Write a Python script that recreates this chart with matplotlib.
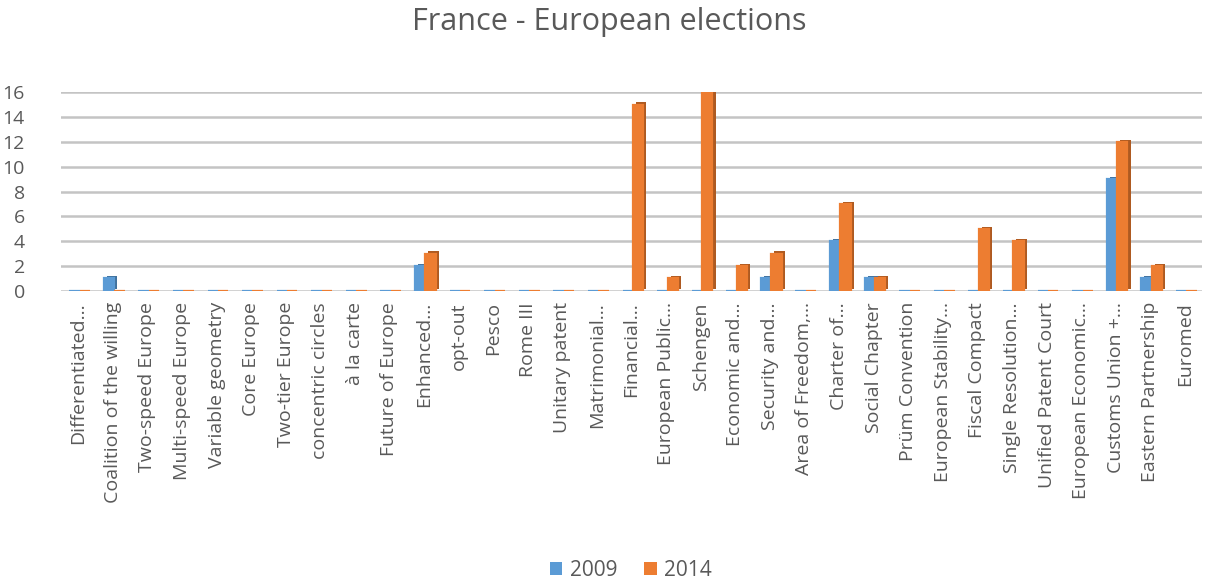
import matplotlib.pyplot as plt
import matplotlib.patheffects as pe
from matplotlib.patches import Patch
import numpy as np

plt.rcParams["font.family"] = ["Open Sans", "DejaVu Sans"]

categories = [
    "Differentiated…", "Coalition of the willing", "Two-speed Europe",
    "Multi-speed Europe", "Variable geometry", "Core Europe", "Two-tier Europe",
    "concentric circles", "à la carte", "Future of Europe", "Enhanced…",
    "opt-out", "Pesco", "Rome III", "Unitary patent", "Matrimonial…",
    "Financial…", "European Public…", "Schengen", "Economic and…",
    "Security and…", "Area of Freedom,…", "Charter of…", "Social Chapter",
    "Prüm Convention", "European Stability…", "Fiscal Compact",
    "Single Resolution…", "Unified Patent Court", "European Economic…",
    "Customs Union +…", "Eastern Partnership", "Euromed",
]
values_2009 = [0, 1, 0, 0, 0, 0, 0, 0, 0, 0, 2, 0, 0, 0, 0, 0,
               0, 0, 0, 0, 1, 0, 4, 1, 0, 0, 0, 0, 0, 0, 9, 1, 0]
values_2014 = [0, 0, 0, 0, 0, 0, 0, 0, 0, 0, 3, 0, 0, 0, 0, 0,
               15, 1, 16, 2, 3, 0, 7, 1, 0, 0, 5, 4, 0, 0, 12, 2, 0]
y_ticks = [0, 2, 4, 6, 8, 10, 12, 14, 16]

BLUE = "#5b9bd5"
ORANGE = "#ed7d31"
TEXT = "#595959"

fig = plt.figure(figsize=(12.18, 5.83), dpi=100)
ax = fig.add_axes([0.050, 0.501, 0.937, 0.341])

x = np.arange(len(categories))
w = 0.30


def depth(color):
    # darker offset copy behind each bar gives the extruded look
    return [pe.SimplePatchShadow(offset=(2.2, 1.6), shadow_rgbFace=color, alpha=1.0),
            pe.Normal()]


b1 = ax.bar(x - w / 2 + 0.04, values_2009, w, color=BLUE, edgecolor=BLUE,
            linewidth=1.6, zorder=3)
b2 = ax.bar(x + w / 2 + 0.04, values_2014, w, color=ORANGE, edgecolor=ORANGE,
            linewidth=1.6, zorder=3)
for bar in b1:
    bar.set_path_effects(depth("#41719c"))
for bar in b2:
    bar.set_path_effects(depth("#ae5a21"))

ax.set_xlim(-0.5, len(categories) - 0.5)
ax.set_ylim(0, 16)
ax.set_yticks(y_ticks)
ax.set_yticklabels([str(v) for v in y_ticks], fontsize=14, color=TEXT)
ax.set_xticks(x)
ax.set_xticklabels(categories, rotation=90, fontsize=14, color=TEXT)
ax.tick_params(axis="both", length=0)
ax.tick_params(axis="y", pad=26)
ax.tick_params(axis="x", pad=8)
ax.yaxis.grid(True, color="#c4c4c4", linewidth=1.8, zorder=0)
ax.set_axisbelow(True)
for s in ax.spines.values():
    s.set_visible(False)

fig.text(0.5, 0.962, "France - European elections", ha="center", va="center",
         fontsize=22, color=TEXT)

handles = [Patch(facecolor=BLUE), Patch(facecolor=ORANGE)]
fig.legend(handles=handles, labels=["2009", "2014"], loc="center",
           bbox_to_anchor=(0.518, 0.022), ncol=2, frameon=False, fontsize=15,
           handlelength=0.6, handleheight=0.6, handletextpad=0.35,
           columnspacing=1.3, labelcolor=TEXT)

fig.savefig("out.png", dpi=100)
